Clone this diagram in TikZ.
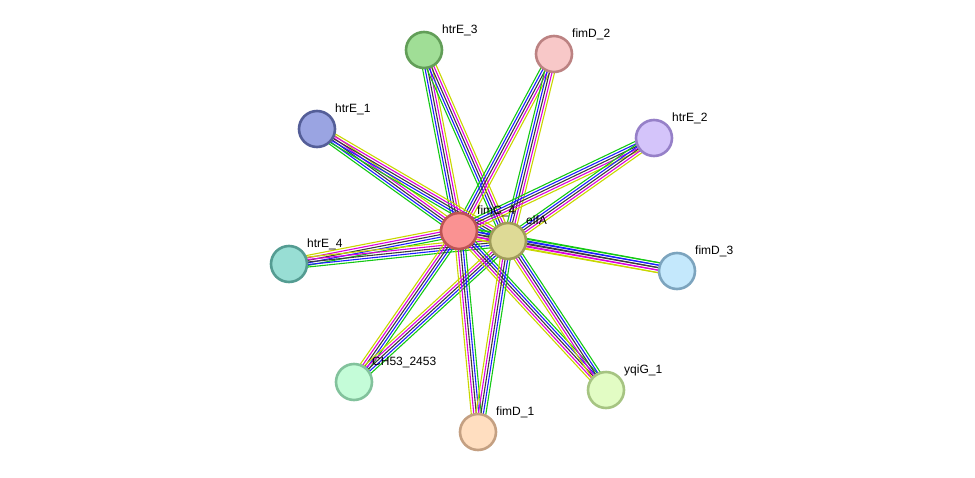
\documentclass[tikz,border=0pt]{standalone}
\usepackage{fontspec}
\setmainfont{Liberation Sans}
\usetikzlibrary{calc,backgrounds}
\definecolor{edgeY}{RGB}{200,214,0}
\definecolor{edgeM}{RGB}{220,0,220}
\definecolor{edgeK}{RGB}{60,60,60}
\definecolor{edgeB}{RGB}{30,30,255}
\definecolor{edgeG}{RGB}{20,200,20}
\tikzset{
  prot/.style={circle, minimum size=36pt, inner sep=0pt, line width=2.6pt},
  lab/.style={anchor=base west, inner sep=0pt, font=\fontsize{12}{14}\selectfont, text=black},
}
\newcommand\bundle[2]{%
  \foreach \col/\off in {edgeY/-5pt, edgeM/-2.5pt, edgeK/0pt, edgeB/2.5pt, edgeG/5pt}{%
    \draw[draw=\col, line width=1.1pt] ($(#1.center)!\off!90:(#2.center)$) -- ($(#2.center)!\off!-90:(#1.center)$);
  }}
\begin{document}
\begin{tikzpicture}[x=1pt,y=-1pt]
\path[use as bounding box] (0,0) rectangle (975,477);
\node[prot, fill={rgb,255:red,160;green,222;blue,150}, draw={rgb,255:red,98;green,158;blue,88}] (htrE3) at (424,50) {};
\node[prot, fill={rgb,255:red,248;green,200;blue,200}, draw={rgb,255:red,188;green,130;blue,130}] (fimD2) at (554,54) {};
\node[prot, fill={rgb,255:red,154;green,164;blue,226}, draw={rgb,255:red,84;green,94;blue,152}] (htrE1) at (317,129) {};
\node[prot, fill={rgb,255:red,212;green,196;blue,250}, draw={rgb,255:red,150;green,128;blue,200}] (htrE2) at (654,138) {};
\node[prot, fill={rgb,255:red,250;green,146;blue,146}, draw={rgb,255:red,190;green,84;blue,84}] (fimC4) at (459,231) {};
\node[prot, fill={rgb,255:red,222;green,218;blue,150}, draw={rgb,255:red,160;green,156;blue,90}] (elfA) at (508,241) {};
\node[prot, fill={rgb,255:red,152;green,222;blue,212}, draw={rgb,255:red,84;green,156;blue,146}] (htrE4) at (289,264) {};
\node[prot, fill={rgb,255:red,196;green,232;blue,252}, draw={rgb,255:red,124;green,164;blue,190}] (fimD3) at (677,271) {};
\node[prot, fill={rgb,255:red,196;green,252;blue,216}, draw={rgb,255:red,130;green,194;blue,156}] (CH53) at (354,382) {};
\node[prot, fill={rgb,255:red,226;green,252;blue,196}, draw={rgb,255:red,166;green,196;blue,130}] (yqiG1) at (606,390) {};
\node[prot, fill={rgb,255:red,255;green,222;blue,192}, draw={rgb,255:red,196;green,160;blue,130}] (fimD1) at (478,432) {};
\begin{scope}[on background layer]
\foreach \p in {htrE3,fimD2,htrE1,htrE2,htrE4,fimD3,CH53,yqiG1,fimD1}{
  \bundle{fimC4}{\p}
  \bundle{elfA}{\p}
}
\bundle{fimC4}{elfA}
\end{scope}
\node[lab] (l1) at (442,33) {htrE\_3};
\node[lab] (l2) at (572,37) {fimD\_2};
\node[lab] (l3) at (335,112) {htrE\_1};
\node[lab] (l4) at (672,121) {htrE\_2};
\node[lab] (l5) at (477,214) {fimC\_4};
\node[lab] (l6) at (526,224) {elfA};
\node[lab] (l7) at (307,247) {htrE\_4};
\node[lab] (l8) at (695,254) {fimD\_3};
\node[lab] (l9) at (372,365) {CH53\_2453};
\node[lab] (l10) at (624,373) {yqiG\_1};
\node[lab] (l11) at (496,415) {fimD\_1};
\end{tikzpicture}
\end{document}
